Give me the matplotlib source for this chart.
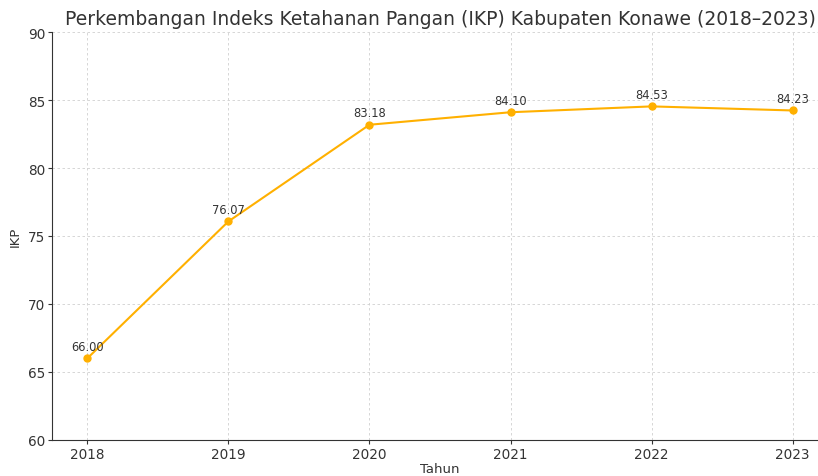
import matplotlib
matplotlib.use("Agg")
import matplotlib.pyplot as plt

years = [2018, 2019, 2020, 2021, 2022, 2023]
ikp = [66.00, 76.07, 83.18, 84.10, 84.53, 84.23]
yticks = [60, 65, 70, 75, 80, 85, 90]

fig = plt.figure(figsize=(8.18, 4.77), dpi=100)
ax = fig.add_axes([52/818, 1-441/477, (828-52)/818, (441-33)/477])

ax.plot(years, ikp, color="#FFB000", marker="o", markersize=5, linewidth=1.5, zorder=3)
for x, y in zip(years, ikp):
    ax.annotate(f"{y:.2f}", (x, y), textcoords="offset points", xytext=(0, 4),
                ha="center", va="bottom", fontsize=8.3, color="#333333")

ax.set_xlim(2017.75, 2023.25)
ax.set_ylim(60, 90)
ax.set_xticks(years)
ax.set_yticks(yticks)
ax.tick_params(labelsize=9.8, colors="#333333", length=3, pad=2)
ax.grid(True, linestyle=(0, (3, 3)), color="#d0d0d0", linewidth=0.6)
ax.spines["top"].set_visible(False)
ax.spines["right"].set_visible(False)
for s in ("left", "bottom"):
    ax.spines[s].set_color("#333333")
ax.set_title("Perkembangan Indeks Ketahanan Pangan (IKP) Kabupaten Konawe (2018\u20132023)",
             fontsize=13.5, color="#333333", pad=6)
ax.set_xlabel("Tahun", fontsize=9.5, color="#333333", labelpad=1)
ax.set_ylabel("IKP", fontsize=9.5, color="#333333", labelpad=4)

fig.savefig("out.png", dpi=100)
